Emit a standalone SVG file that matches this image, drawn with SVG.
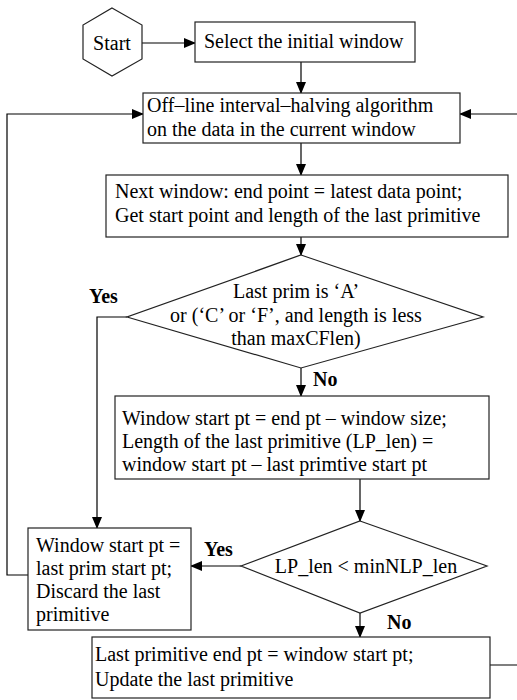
<svg xmlns="http://www.w3.org/2000/svg" width="517" height="700" viewBox="0 0 517 700">
<style>
.box{fill:#fff;stroke:#222;stroke-width:1.2}
.ln{fill:none;stroke:#000;stroke-width:1.2}
text{font-family:"Liberation Serif","Times New Roman",serif;font-size:20px;fill:#000}
.c{text-anchor:middle}
.b{font-weight:bold}
</style>
<defs>
<marker id="ah" markerWidth="12" markerHeight="10" refX="11" refY="5" orient="auto" markerUnits="userSpaceOnUse">
<path d="M0,0 L12,5 L0,10 Z" fill="#000"/>
</marker>
</defs>
<g id="connectors">
<path class="ln" d="M142,43 H195" marker-end="url(#ah)"/>
<path class="ln" d="M301,62 V93" marker-end="url(#ah)"/>
<path class="ln" d="M301,143 V175" marker-end="url(#ah)"/>
<path class="ln" d="M301,237 V255" marker-end="url(#ah)"/>
<path class="ln" d="M127,317 H97 V528" marker-end="url(#ah)"/>
<path class="ln" d="M301,368 V396" marker-end="url(#ah)"/>
<path class="ln" d="M360,479 V521" marker-end="url(#ah)"/>
<path class="ln" d="M241,566 H191" marker-end="url(#ah)"/>
<path class="ln" d="M360,613 V637" marker-end="url(#ah)"/>
<path class="ln" d="M28,575 H7 V114 H143" marker-end="url(#ah)"/>
<path class="ln" d="M490,665 H522 V114 H460" marker-end="url(#ah)"/>
<text class="b" x="89" y="303">Yes</text>
<text class="b" x="313" y="386">No</text>
<text class="b" x="204" y="556">Yes</text>
<text class="b" x="387" y="629">No</text>
</g>
<g id="start">
<polygon class="box" points="112,8 142,25 142,59 112,76 83,59 83,25"/>
<text class="c" x="112" y="50">Start</text>
</g>
<g id="select">
<rect class="box" x="195" y="22" width="220" height="40"/>
<text x="204" y="48">Select the initial window</text>
</g>
<g id="offline">
<rect class="box" x="143" y="93" width="317" height="50"/>
<text x="147" y="112">Off–line interval–halving algorithm</text>
<text x="147" y="136">on the data in the current window</text>
</g>
<g id="nextwindow">
<rect class="box" x="106" y="175" width="402" height="62"/>
<text x="115" y="198">Next window: end point = latest data point;</text>
<text x="115" y="222">Get start point and length of the last primitive</text>
</g>
<g id="decision1">
<polygon class="box" points="301,255 483,317 301,368 127,317"/>
<text class="c" x="296" y="298">Last prim is ‘A’</text>
<text class="c" x="296" y="322">or (‘C’ or ‘F’, and length is less</text>
<text class="c" x="296" y="345">than maxCFlen)</text>
</g>
<g id="windowstart">
<rect class="box" x="115" y="396" width="374" height="83"/>
<text x="122" y="425">Window start pt = end pt – window size;</text>
<text x="122" y="448">Length of the last primitive (LP_len) =</text>
<text x="122" y="471">window start pt – last primtive start pt</text>
</g>
<g id="decision2">
<polygon class="box" points="360,521 487,566 360,613 241,566"/>
<text class="c" x="366" y="573">LP_len &lt; minNLP_len</text>
</g>
<g id="discard">
<rect class="box" x="28" y="528" width="163" height="102"/>
<text x="36" y="552">Window start pt =</text>
<text x="36" y="575">last prim start pt;</text>
<text x="36" y="598">Discard the last</text>
<text x="36" y="621">primitive</text>
</g>
<g id="update">
<rect class="box" x="92" y="637" width="398" height="61"/>
<text x="95" y="661">Last primitive end pt = window start pt;</text>
<text x="95" y="686">Update the last primitive</text>
</g>
</svg>
